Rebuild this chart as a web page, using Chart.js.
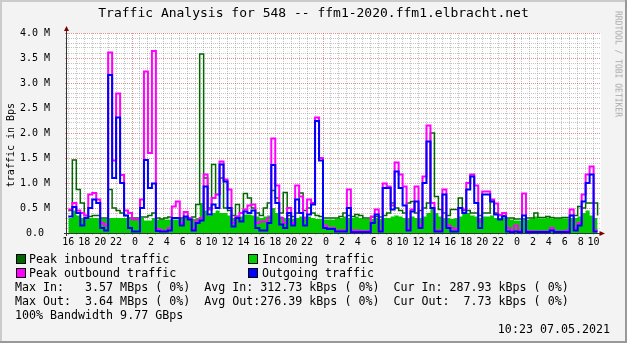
<!DOCTYPE html>
<html>
<head>
<meta charset="utf-8">
<title>Traffic Analysis for 548</title>
<script src="https://cdn.jsdelivr.net/npm/chart.js@4.4.0/dist/chart.umd.min.js"></script>
<style>
    html, body { margin: 0; padding: 0; background: #f3f3f3; }
    #graph { position: relative; width: 627px; height: 343px; overflow: hidden; }
    #graph canvas { position: absolute; left: 0; top: 0; }
    .txt { position: absolute; font-family: "DejaVu Sans Mono", monospace; color: #000; white-space: pre; }
    #title { left: 0; width: 627px; top: 5px; font-size: 13px; line-height: 16px; text-align: center; }
    .leg { font-size: 11.65px; line-height: 14px; }
    .box { position: absolute; width: 8px; height: 8px; border: 1px solid #000; }
    #mark { left: 618px; top: 64px; font-size: 8px; color: #a8a8a8; transform: translate(-50%, -50%) rotate(90deg); }
</style>
</head>
<body>
<div id="graph">
    <canvas id="traffic" width="627" height="343"></canvas>
    <div class="txt" id="title">Traffic Analysis for 548 -- ffm1-2020.ffm1.elbracht.net</div>
    <div class="txt" id="mark">RRDTOOL / TOBI OETIKER</div>

    <div class="box" style="left:16px;top:254px;background:#006600"></div>
    <div class="txt leg" style="left:29px;top:252px">Peak inbound traffic</div>
    <div class="box" style="left:248px;top:254px;background:#00cc00"></div>
    <div class="txt leg" style="left:262px;top:252px">Incoming traffic</div>
    <div class="box" style="left:16px;top:268px;background:#ff00ff"></div>
    <div class="txt leg" style="left:29px;top:266px">Peak outbound traffic</div>
    <div class="box" style="left:248px;top:268px;background:#0000ff"></div>
    <div class="txt leg" style="left:262px;top:266px">Outgoing traffic</div>

    <div class="txt leg" style="left:15px;top:280px">Max In:   3.57 MBps ( 0%)  Avg In: 312.73 kBps ( 0%)  Cur In: 287.93 kBps ( 0%)</div>
    <div class="txt leg" style="left:15px;top:294px">Max Out:  3.64 MBps ( 0%)  Avg Out:276.39 kBps ( 0%)  Cur Out:  7.73 kBps ( 0%)</div>
    <div class="txt leg" style="left:15px;top:308px">100% Bandwidth 9.77 GBps</div>
    <div class="txt leg" style="right:17px;top:322px">10:23 07.05.2021</div>
</div>

<script>
// Hours are counted from the first midnight (0 = 00:00 of day 2)
const sampleStart = -8;     // first reading at 16:00 of day 1
const sampleStep = 0.5;     // one reading every 30 minutes
const xMin = -8.17;
const xMax = 58.93;

// Traffic readings in MBps, one per half hour
const incoming = [
    0.3, 0.45, 0.35, 0.3, 0.3, 0.3, 0.3, 0.3, 0.28, 0.28, 0.3, 0.3, 0.3, 0.3, 0.3, 0.28, 0.28, 0.28, 0.3, 0.25, 0.25, 0.3,
    0.27, 0.27, 0.27, 0.27, 0.27, 0.27, 0.28, 0.28, 0.28, 0.28, 0.3, 0.6, 0.45, 0.35, 0.4, 0.45, 0.4, 0.4, 0.35, 0.3, 0.35, 0.33, 0.37,
    0.37, 0.35, 0.33, 0.3, 0.33, 0.35, 0.5, 0.4, 0.33, 0.3, 0.3, 0.28, 0.3, 0.33, 0.33, 0.33, 0.3, 0.28, 0.28, 0.27,
    0.27, 0.27, 0.28, 0.3, 0.33, 0.3, 0.3, 0.33, 0.3, 0.28, 0.28, 0.28, 0.3, 0.28, 0.3, 0.3, 0.33, 0.35, 0.33, 0.3, 0.3, 0.33, 0.3, 0.3, 0.33,
    0.4, 0.5, 0.4, 0.33, 0.3, 0.3, 0.28, 0.3, 0.33, 0.4, 0.4, 0.35, 0.33, 0.3, 0.33, 0.33, 0.35, 0.3, 0.3, 0.3, 0.28, 0.27,
    0.25, 0.25, 0.26, 0.27, 0.28, 0.33, 0.29, 0.29, 0.31, 0.29, 0.29, 0.29, 0.29, 0.29, 0.3, 0.3, 0.33, 0.4, 0.45, 0.35, 0.3, 0.3
];
const peakIn = [
    0.45, 1.46, 0.87, 0.6, 0.35, 0.33, 0.35, 0.35, 0.3, 0.3, 0.87, 0.5, 0.45, 0.4, 0.35, 0.3, 0.3, 0.3, 0.32, 0.32, 0.35, 0.4,
    0.3, 0.28, 0.3, 0.32, 0.3, 0.3, 0.3, 0.3, 0.3, 0.32, 0.57, 3.58, 1.1, 0.5, 1.37, 0.77, 1.1, 0.5, 0.45, 0.35, 0.57, 0.4, 0.79,
    0.7, 0.5, 0.4, 0.35, 0.5, 0.6, 0.85, 0.7, 0.4, 0.81, 0.35, 0.33, 0.4, 0.8, 0.45, 0.5, 0.4, 0.35, 0.33, 0.3,
    0.3, 0.3, 0.3, 0.33, 0.4, 0.35, 0.33, 0.37, 0.35, 0.3, 0.3, 0.32, 0.33, 0.32, 0.35, 0.4, 0.6, 0.5, 0.45, 0.4, 0.6, 0.63, 0.4, 0.45, 0.5,
    0.6, 2.0, 0.73, 0.47, 0.4, 0.35, 0.47, 0.47, 0.7, 0.45, 0.45, 0.4, 0.4, 0.35, 0.4, 0.4, 0.63, 0.4, 0.35, 0.35, 0.3, 0.3,
    0.28, 0.28, 0.28, 0.3, 0.3, 0.4, 0.31, 0.31, 0.33, 0.31, 0.3, 0.3, 0.31, 0.31, 0.35, 0.35, 0.53, 0.5, 0.6, 0.6, 0.6, 0.35
];
const peakOut = [
    0.47, 0.6, 0.45, 0.4, 0.35, 0.77, 0.8, 0.67, 0.2, 0.15, 3.61, 1.45, 2.79, 1.16, 0.45, 0.4, 0.27, 0.27, 0.67, 3.23, 1.6, 3.64,
    0.08, 0.05, 0.04, 0.1, 0.53, 0.63, 0.2, 0.42, 0.3, 0.08, 0.25, 0.3, 1.17, 0.47, 0.7, 0.77, 1.43, 1.07, 0.87, 0.2, 0.33, 0.4, 0.47,
    0.55, 0.57, 0.2, 0.23, 0.23, 0.3, 1.89, 0.95, 0.3, 0.2, 0.5, 0.2, 0.95, 0.73, 0.3, 0.67, 0.6, 2.31, 1.5, 0.15,
    0.1, 0.1, 0.05, 0.05, 0.05, 0.87, 0.05, 0.05, 0.04, 0.03, 0.04, 0.33, 0.47, 0.05, 0.99, 0.93, 0.55, 1.41, 1.17, 0.93, 0.08, 0.47, 0.93, 0.15, 1.13,
    2.15, 0.6, 0.05, 0.05, 0.87, 0.15, 0.1, 0.08, 0.5, 0.47, 1.0, 1.17, 0.95, 0.23, 0.83, 0.83, 0.67, 0.59, 0.36, 0.4, 0.1, 0.05,
    0.15, 0.05, 0.79, 0.04, 0.03, 0.03, 0.03, 0.03, 0.03, 0.1, 0.03, 0.03, 0.03, 0.05, 0.47, 0.1, 0.2, 0.77, 1.17, 1.33, 0.05, 0.05
];
const outgoing = [
    0.33, 0.52, 0.4, 0.15, 0.3, 0.5, 0.67, 0.6, 0.1, 0.05, 3.16, 1.1, 2.31, 1.0, 0.35, 0.1, 0.03, 0.03, 0.5, 1.46, 0.9, 0.99,
    0.04, 0.03, 0.03, 0.05, 0.3, 0.3, 0.15, 0.33, 0.27, 0.05, 0.2, 0.25, 0.93, 0.37, 0.57, 0.5, 1.37, 1.03, 0.5, 0.13, 0.3, 0.23, 0.43,
    0.4, 0.45, 0.1, 0.05, 0.05, 0.2, 1.36, 0.6, 0.17, 0.1, 0.4, 0.15, 0.67, 0.4, 0.15, 0.37, 0.57, 2.24, 1.45, 0.1,
    0.08, 0.08, 0.03, 0.03, 0.03, 0.5, 0.02, 0.02, 0.02, 0.02, 0.02, 0.2, 0.37, 0.03, 0.9, 0.9, 0.47, 1.23, 0.9, 0.55, 0.05, 0.43, 0.63, 0.1, 1.0,
    1.83, 0.5, 0.03, 0.03, 0.77, 0.1, 0.03, 0.03, 0.5, 0.4, 0.87, 1.13, 0.6, 0.1, 0.77, 0.77, 0.63, 0.37, 0.27, 0.33, 0.03, 0.02,
    0.03, 0.02, 0.35, 0.02, 0.02, 0.02, 0.02, 0.02, 0.02, 0.05, 0.02, 0.02, 0.02, 0.02, 0.35, 0.05, 0.15, 0.63, 1.0, 1.17, 0.03, 0.03
];

// Axis labels
const yMajorLabels = ['0.0 ', '0.5 M', '1.0 M', '1.5 M', '2.0 M', '2.5 M', '3.0 M', '3.5 M', '4.0 M'];
const firstHourTick = -8;
const lastHourTick = 58;

const FONT = '"DejaVu Sans Mono", monospace';
const AXIS_FONT_SIZE = 10;
const GRID_MINOR = 'rgba(140, 140, 140, 0.5)';
const GRID_MAJOR = 'rgba(204, 60, 60, 0.55)';

function toPoints(values) {
    return values.map((v, i) => ({ x: sampleStart + i * sampleStep, y: v }));
}

function hourLabel(value) {
    if (value % 2 !== 0) return '';
    const h = ((value % 24) + 24) % 24;
    return h < 10 ? ' ' + h : String(h);
}

function isHalfStep(value) {
    return Math.round(value * 10) % 5 === 0;
}

// Background, shaded frame, axes and arrows in rrdtool style
const rrdFrame = {
    id: 'rrdFrame',
    beforeDraw(chart) {
        const { ctx, chartArea: a, width, height } = chart;
        ctx.save();
        ctx.fillStyle = '#f3f3f3';
        ctx.fillRect(0, 0, width, height);
        ctx.fillStyle = '#cbcbcb';
        ctx.fillRect(0, 0, width, 2);
        ctx.fillRect(0, 0, 2, height);
        ctx.fillStyle = '#999999';
        ctx.fillRect(0, height - 2, width, 2);
        ctx.fillRect(width - 2, 0, 2, height);
        ctx.fillStyle = '#ffffff';
        ctx.fillRect(a.left, a.top, a.right - a.left, a.bottom - a.top);
        ctx.restore();
    },
    afterDraw(chart) {
        const { ctx, chartArea: a } = chart;
        const ax = a.left - 0.5;
        const ay = a.bottom + 0.5;
        ctx.save();
        ctx.strokeStyle = '#333333';
        ctx.lineWidth = 1;
        ctx.beginPath();
        ctx.moveTo(ax, a.bottom + 3);
        ctx.lineTo(ax, a.top - 3);
        ctx.moveTo(a.left - 3, ay);
        ctx.lineTo(a.right + 2, ay);
        ctx.stroke();

        ctx.fillStyle = '#800000';
        ctx.beginPath();
        ctx.moveTo(ax - 2.5, a.top - 2);
        ctx.lineTo(ax + 2.5, a.top - 2);
        ctx.lineTo(ax, a.top - 7);
        ctx.closePath();
        ctx.fill();
        ctx.beginPath();
        ctx.moveTo(a.right - 1.5, ay - 2.5);
        ctx.lineTo(a.right - 1.5, ay + 2.5);
        ctx.lineTo(a.right + 4, ay);
        ctx.closePath();
        ctx.fill();
        ctx.restore();
    }
};

const lineDefaults = {
    stepped: 'before',
    fill: false,
    pointRadius: 0,
    tension: 0,
    borderCapStyle: 'butt',
    borderJoinStyle: 'miter'
};

const chart = new Chart(document.getElementById('traffic'), {
    type: 'line',
    data: {
        datasets: [
            {
                ...lineDefaults,
                label: 'Incoming traffic',
                data: toPoints(incoming),
                fill: 'origin',
                backgroundColor: '#00cc00',
                borderColor: 'rgba(0, 0, 0, 0)',
                borderWidth: 0,
                order: 4
            },
            {
                ...lineDefaults,
                label: 'Peak inbound traffic',
                data: toPoints(peakIn),
                borderColor: '#006600',
                borderWidth: 1.5,
                order: 3
            },
            {
                ...lineDefaults,
                label: 'Peak outbound traffic',
                data: toPoints(peakOut),
                borderColor: '#ff00ff',
                borderWidth: 2,
                order: 2
            },
            {
                ...lineDefaults,
                label: 'Outgoing traffic',
                data: toPoints(outgoing),
                borderColor: '#0000ff',
                borderWidth: 2,
                order: 1
            }
        ]
    },
    options: {
        responsive: false,
        animation: false,
        events: [],
        layout: {
            padding: { top: 33, right: 26, bottom: 90, left: 0 }
        },
        plugins: {
            legend: { display: false },
            title: { display: false },
            tooltip: { enabled: false }
        },
        scales: {
            x: {
                type: 'linear',
                min: xMin,
                max: xMax,
                afterFit: (scale) => { scale.height = 20; },
                afterBuildTicks: (scale) => {
                    const ticks = [];
                    for (let h = firstHourTick; h <= lastHourTick; h++) ticks.push({ value: h });
                    scale.ticks = ticks;
                },
                grid: {
                    color: (ctx) => (ctx.tick && ctx.tick.value % 24 === 0 ? GRID_MAJOR : GRID_MINOR),
                    lineWidth: 1,
                    tickLength: 2
                },
                border: { display: false, dash: [1, 1] },
                ticks: {
                    autoSkip: false,
                    maxRotation: 0,
                    minRotation: 0,
                    padding: 1,
                    color: '#000',
                    font: { family: FONT, size: AXIS_FONT_SIZE },
                    callback: (value) => hourLabel(value)
                }
            },
            y: {
                type: 'linear',
                min: 0,
                max: 4,
                afterFit: (scale) => { scale.width = 67; },
                afterBuildTicks: (scale) => {
                    const ticks = [];
                    for (let i = 0; i <= 40; i++) ticks.push({ value: i / 10 });
                    scale.ticks = ticks;
                },
                grid: {
                    color: (ctx) => (ctx.tick && isHalfStep(ctx.tick.value) ? GRID_MAJOR : GRID_MINOR),
                    lineWidth: 1,
                    tickLength: 2
                },
                border: { display: false, dash: [1, 1] },
                title: {
                    display: true,
                    text: 'traffic in Bps    ',
                    color: '#000',
                    font: { family: FONT, size: AXIS_FONT_SIZE },
                    padding: { top: 5, bottom: 0 }
                },
                ticks: {
                    autoSkip: false,
                    padding: 15,
                    color: '#000',
                    font: { family: FONT, size: AXIS_FONT_SIZE },
                    callback: (value) => (isHalfStep(value) ? yMajorLabels[Math.round(value * 2)] : '')
                }
            }
        }
    },
    plugins: [rrdFrame]
});
</script>
</body>
</html>
